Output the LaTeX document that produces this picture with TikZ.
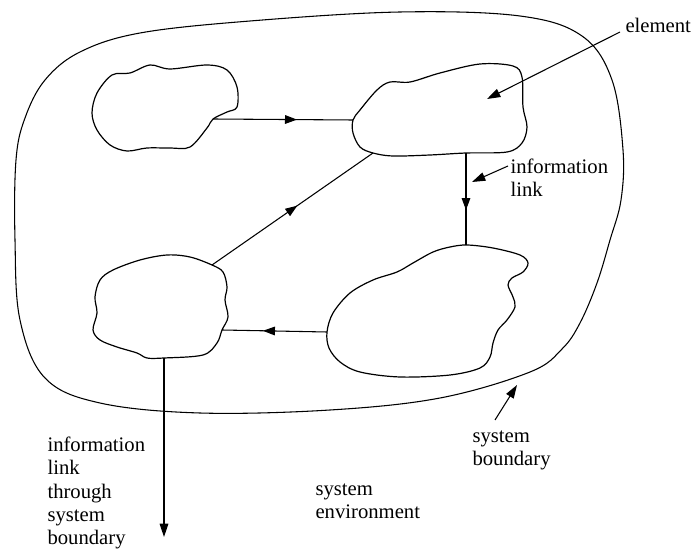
\documentclass[tikz,border=0pt]{standalone}
\usepackage{fontspec}
\setmainfont{Liberation Serif}
\usetikzlibrary{arrows.meta,decorations.markings,calc}
\begin{document}
\begin{tikzpicture}[x=0.75pt,y=-0.75pt,
  line width=0.8pt,
  blob/.style={draw, line width=0.9pt},
  link/.style={draw, line width=0.8pt},
  tip/.style={-{Triangle[length=10pt,width=6.5pt]}},
  midarrow/.style={postaction={decorate},decoration={markings,mark=at position #1 with {\arrow{Triangle[length=9pt,width=6.5pt]}}}},
  lbl/.style={font=\fontsize{15.5}{17.6}\selectfont, align=left, anchor=north west, inner sep=0pt},
]
\useasboundingbox (0,0) rectangle (693,552);

% system boundary
\draw[line width=0.8pt] plot[smooth cycle, tension=0.6] coordinates {
 (140,33) (250,21) (400,12) (520,16) (582,36) (612,80) (623,150) (621,200)
 (610,240) (597,283) (580,323) (562,349) (530,372) (440,398) (330,410) (200,413)
 (100,403) (45,378) (20,320) (15,240) (16,160) (25,118) (45,80) (80,52)};

% element A (top left)
\draw[blob] plot[smooth cycle, tension=0.55] coordinates {
 (112,75) (130,73) (150,65) (170,69) (207,65) (227,70) (237,87) (237,107) (227,112)
 (213,119) (207,128) (190,147) (170,148) (147,148) (127,151) (110,145) (97,130)
 (92,113) (97,93)};
% element B (top right)
\draw[blob] plot[smooth cycle, tension=0.55] coordinates {
 (353,120) (360,110) (377,90) (390,82) (410,82) (440,73) (480,64) (513,66) (522,77)
 (523,107) (527,127) (522,143) (507,152) (466,153) (430,155) (393,156) (373,153)
 (360,147) (353,133)};
% element D (bottom right)
\draw[blob] plot[smooth cycle, tension=0.55] coordinates {
 (467,245) (493,248) (520,255) (528,263) (523,272) (512,278) (508,285) (513,297)
 (515,307) (507,320) (498,330) (493,343) (490,357) (480,368) (450,375) (400,377)
 (360,372) (340,362) (329,348) (327,332) (333,313) (350,293) (373,280) (397,272)
 (413,263) (433,252) (450,247)};
% element C (bottom left)
\draw[blob] plot[smooth cycle, tension=0.55] coordinates {
 (212,265) (223,272) (227,287) (225,300) (228,317) (222,330) (217,343) (203,355)
 (164,358) (147,358) (137,353) (117,347) (100,340) (93,330) (97,313) (95,297)
 (100,280) (113,270) (140,260) (167,255) (190,257)};

% attach points
\coordinate (Aout) at (213,119);
\coordinate (Bin) at (353,120);
\coordinate (Bdiag) at (373,153);
\coordinate (Bdown) at (466,153);
\coordinate (Din) at (466,245);
\coordinate (Dout) at (327,332);
\coordinate (Cin) at (222,330);
\coordinate (Cdiag) at (212,265);
\coordinate (Cout) at (164,358);
\coordinate (outend) at (164,537);

% information links
\draw[link, midarrow=0.6] (Aout) -- (Bin);
\draw[link, midarrow=0.53] (Cdiag) -- (Bdiag);
\draw[link, midarrow=0.62] (Bdown) -- (Din);
\draw[link, midarrow=0.61] (Dout) -- (Cin);
\draw[link, tip] (Cout) -- (outend);

% labels
\node[lbl] (elem) at (625,18) {element};
\node[lbl] (infolbl) at (510,158) {information\\link};
\node[lbl] (sbl) at (472,430) {system\\boundary};
\node[lbl] (thru) at (47,436) {information\\link\\through\\system\\boundary};
\node[lbl] (env) at (315,483) {system\\environment};

\coordinate (elemtip) at (487,99);
\coordinate (infotip) at (472,182);
\coordinate (sbtip) at (517,385);
\draw[link, tip] ($(elem.north west)+(-5,14)$) -- (elemtip);
\draw[link, tip] ($(infolbl.north west)+(-2,8)$) -- (infotip);
\draw[link, tip] ($(sbl.north west)+(23,-10)$) -- (sbtip);
\end{tikzpicture}
\end{document}
